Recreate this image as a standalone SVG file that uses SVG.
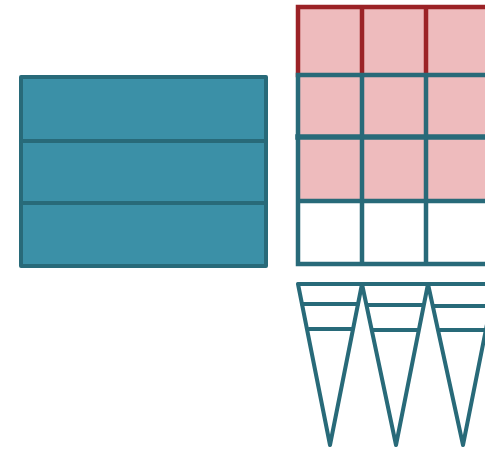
<svg xmlns="http://www.w3.org/2000/svg" width="485" height="450" viewBox="0 0 485 450">
<style>
.t{stroke:#286a79;stroke-width:4;fill:none;stroke-linejoin:round;stroke-linecap:round}
.g{stroke:#286a79;stroke-width:4.5;fill:none;stroke-linejoin:round;stroke-linecap:square}
.r{stroke:#9b2226;stroke-width:4.5;fill:none;stroke-linecap:square}
.blk{fill:#3b90a7}
.pk{fill:#eebbbd}
</style>
<rect width="485" height="450" fill="#ffffff"/>
<g id="block">
<rect class="blk" x="21" y="77" width="245" height="189"/>
<rect class="t" x="21" y="77" width="245" height="189"/>
<line class="t" x1="21" y1="141" x2="266" y2="141"/>
<line class="t" x1="21" y1="203" x2="266" y2="203"/>
</g>
<g id="grid">
<rect class="pk" x="298" y="7" width="190" height="194"/>
<path class="r" d="M298,75 V7 H490 M362,7 V75 M426,8 V75"/>
<path class="g" d="M298,75 H490 M298,201 H490 M298,264 H490 M298,75 V264 M362,75 V264 M426,75 V264"/>
<path class="g" style="stroke-width:5.5" d="M298,137 H490"/>
</g>
<g id="cones">
<path class="t" d="M298,284 H490 M298,284 L330,445 L362,284 M362,284 L396,445 L428,284 M428,284 L463,445 L495,284"/>
<path class="t" d="M302,304 H358 M309,329 H352"/>
<path class="t" d="M368,305 H423 M373,330 H418"/>
<path class="t" d="M434,306 H490 M440,330 H490"/>
</g>
</svg>
